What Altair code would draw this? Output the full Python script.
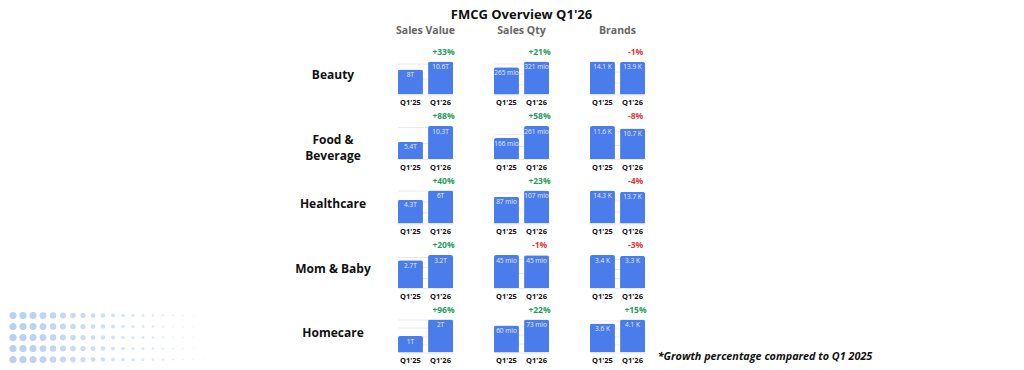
import altair as alt
import pandas as pd

FONT = "Open Sans"
BLUE = "#4A7DEB"
GREEN = "#1E9E5E"
RED = "#D93A3A"

# ---------------- data ----------------
categories = ["Beauty", "Food & Beverage", "Healthcare", "Mom & Baby", "Homecare"]
category_lines = [["Beauty"], ["Food &", "Beverage"], ["Healthcare"], ["Mom & Baby"], ["Homecare"]]
metrics = ["Sales Value", "Sales Qty", "Brands"]
periods = ["Q1'25", "Q1'26"]

sales_value_q125 = [8.0, 5.4, 4.3, 2.7, 1.0]
sales_value_q126 = [10.6, 10.3, 6.0, 3.2, 2.0]
sales_value_lbl_q125 = ["8T", "5.4T", "4.3T", "2.7T", "1T"]
sales_value_lbl_q126 = ["10.6T", "10.3T", "6T", "3.2T", "2T"]
sales_value_growth = [33, 88, 40, 20, 96]

sales_qty_q125 = [265, 166, 87, 45.5, 60]
sales_qty_q126 = [321, 261, 107, 45, 73]
sales_qty_lbl_q125 = ["265 mio", "166 mio", "87 mio", "45 mio", "60 mio"]
sales_qty_lbl_q126 = ["321 mio", "261 mio", "107 mio", "45 mio", "73 mio"]
sales_qty_growth = [21, 58, 23, -1, 22]

brands_q125 = [14.1, 11.6, 14.3, 3.4, 3.6]
brands_q126 = [13.9, 10.7, 13.7, 3.3, 4.1]
brands_lbl_q125 = ["14.1 K", "11.6 K", "14.3 K", "3.4 K", "3.6 K"]
brands_lbl_q126 = ["13.9 K", "10.7 K", "13.7 K", "3.3 K", "4.1 K"]
brands_growth = [-1, -8, -4, -3, 15]

footnote = "*Growth percentage compared to Q1 2025"
title_text = "FMCG Overview Q1'26"

# decorative dot pattern (bottom-left)
dot_cols = list(range(20))
dot_rows = list(range(5))
dot_diam = [7.2, 7.2, 7.0, 6.8, 6.4, 6.0, 5.6, 5.2, 4.8, 4.4, 4.0, 3.6, 3.3, 3.0, 2.7, 2.4, 2.1, 1.8, 1.6, 1.4]
dot_alpha = [0.95, 0.93, 0.9, 0.87, 0.83, 0.79, 0.75, 0.71, 0.67, 0.63, 0.59, 0.55, 0.51, 0.47, 0.43, 0.39, 0.35, 0.31, 0.27, 0.23]

# ---------------- table ----------------
metric_data = {
    "Sales Value": (sales_value_q125, sales_value_q126, sales_value_lbl_q125, sales_value_lbl_q126, sales_value_growth),
    "Sales Qty": (sales_qty_q125, sales_qty_q126, sales_qty_lbl_q125, sales_qty_lbl_q126, sales_qty_growth),
    "Brands": (brands_q125, brands_q126, brands_lbl_q125, brands_lbl_q126, brands_growth),
}
records = []
for m in metrics:
    v0, v1, l0, l1, g = metric_data[m]
    for i, c in enumerate(categories):
        glbl = f"{g[i]:+d}%"
        records.append(dict(category=c, metric=m, period=periods[0], pidx=0, value=v0[i], label=l0[i], growth=g[i], growth_label=glbl))
        records.append(dict(category=c, metric=m, period=periods[1], pidx=1, value=v1[i], label=l1[i], growth=g[i], growth_label=glbl))
df = pd.DataFrame(records)

dots_df = pd.DataFrame(
    [dict(col=c, row=r, size=dot_diam[c] ** 2, alpha=dot_alpha[c]) for r in dot_rows for c in dot_cols]
)
dummy = pd.DataFrame({"k": [0]})

PANEL_W, PANEL_H = 55, 33
LEFT_W, LABEL_W, GAP_W, RIGHT_W = 260, 130, 41, 240
HEAD_H = 21.5


def blank(w, h):
    return alt.Chart(dummy).mark_text(text="").encode(opacity=alt.value(0)).properties(width=w, height=h)


def panel(cat, metric):
    d = df[(df.category == cat) & (df.metric == metric)]
    base = alt.Chart(d).encode(
        x=alt.X(
            "period:N", sort=periods, title=None,
            scale=alt.Scale(paddingInner=0.17, paddingOuter=0),
            axis=alt.Axis(labelAngle=0, ticks=False, domain=False, labelFontSize=7.5,
                          labelFontWeight="bold", labelColor="#111", labelPadding=4, labelFont=FONT),
        )
    )
    yenc = alt.Y(
        "value:Q", title=None, scale=alt.Scale(zero=True, nice=False),
        axis=alt.Axis(labels=False, ticks=False, domain=False, grid=True, gridColor="#e4e4e4",
                      gridWidth=0.8, tickCount=3),
    )
    bars = base.mark_bar(color=BLUE, cornerRadiusTopLeft=2, cornerRadiusTopRight=2).encode(y=yenc)
    vals = base.mark_text(baseline="top", dy=2.5, fontSize=6.5, color="white", opacity=0.85, font=FONT).encode(
        y=alt.Y("value:Q"), text="label:N"
    )
    growth = (
        base.transform_joinaggregate(vmax="max(value)")
        .transform_filter("datum.pidx == 1")
        .mark_text(baseline="middle", dy=-10, dx=3, fontSize=8.5, fontWeight="bold", font=FONT)
        .encode(
            y=alt.Y("vmax:Q"),
            text="growth_label:N",
            color=alt.condition("datum.growth >= 0", alt.value(GREEN), alt.value(RED)),
        )
    )
    return alt.layer(bars, vals, growth).properties(width=PANEL_W, height=PANEL_H)


def label_chart(lines):
    return (
        alt.Chart(dummy)
        .mark_text(text=lines, font=FONT, fontSize=12, fontWeight="bold", baseline="top", dy=-8, lineHeight=16)
        .encode(color=alt.value("#111"))
        .properties(width=LABEL_W, height=PANEL_H)
    )


def header_chart(name, with_title=False):
    head = (
        alt.Chart(dummy)
        .mark_text(text=name, font=FONT, fontSize=10.5, fontWeight="bold", dy=12.5)
        .encode(color=alt.value("#666"))
    )
    if with_title:
        ttl = (
            alt.Chart(dummy)
            .mark_text(text=title_text, font=FONT, fontSize=13, fontWeight="bold", dy=-3.5)
            .encode(color=alt.value("#111"))
        )
        return alt.layer(head, ttl).properties(width=PANEL_W, height=HEAD_H)
    return head.properties(width=PANEL_W, height=HEAD_H)


dots = (
    alt.Chart(dots_df)
    .mark_circle(color="#B5CDF2")
    .encode(
        x=alt.X("col:Q", scale=alt.Scale(domain=[-0.5, 25.5]), axis=None),
        y=alt.Y("row:Q", scale=alt.Scale(domain=[0.36, 3.36], reverse=True), axis=None),
        size=alt.Size("size:Q", scale=None, legend=None),
        opacity=alt.Opacity("alpha:Q", scale=None, legend=None),
    )
    .properties(width=LEFT_W, height=PANEL_H)
)

foot = (
    alt.Chart(dummy)
    .mark_text(text=footnote, font=FONT, fontSize=10.8, fontWeight="bold", fontStyle="italic", dy=21)
    .encode(color=alt.value("#111"))
    .properties(width=RIGHT_W, height=PANEL_H)
)

cells = []
# header row
cells += [
    blank(LEFT_W, HEAD_H), blank(LABEL_W, HEAD_H),
    header_chart(metrics[0]), blank(GAP_W, HEAD_H),
    header_chart(metrics[1], with_title=True), blank(GAP_W, HEAD_H),
    header_chart(metrics[2]), blank(RIGHT_W, HEAD_H),
]
for i, c in enumerate(categories):
    last = i == len(categories) - 1
    cells += [
        dots if last else blank(LEFT_W, PANEL_H),
        label_chart(category_lines[i]),
        panel(c, metrics[0]), blank(GAP_W, PANEL_H),
        panel(c, metrics[1]), blank(GAP_W, PANEL_H),
        panel(c, metrics[2]),
        foot if last else blank(RIGHT_W, PANEL_H),
    ]

chart = (
    alt.concat(*cells, columns=8, spacing={"row": 31.5, "column": 0}, bounds="flush", align="each", padding=0)
    .configure_view(stroke=None)
    .configure_text(font=FONT)
)

chart.save("out.html", embed_options={"renderer": "svg", "actions": False})
